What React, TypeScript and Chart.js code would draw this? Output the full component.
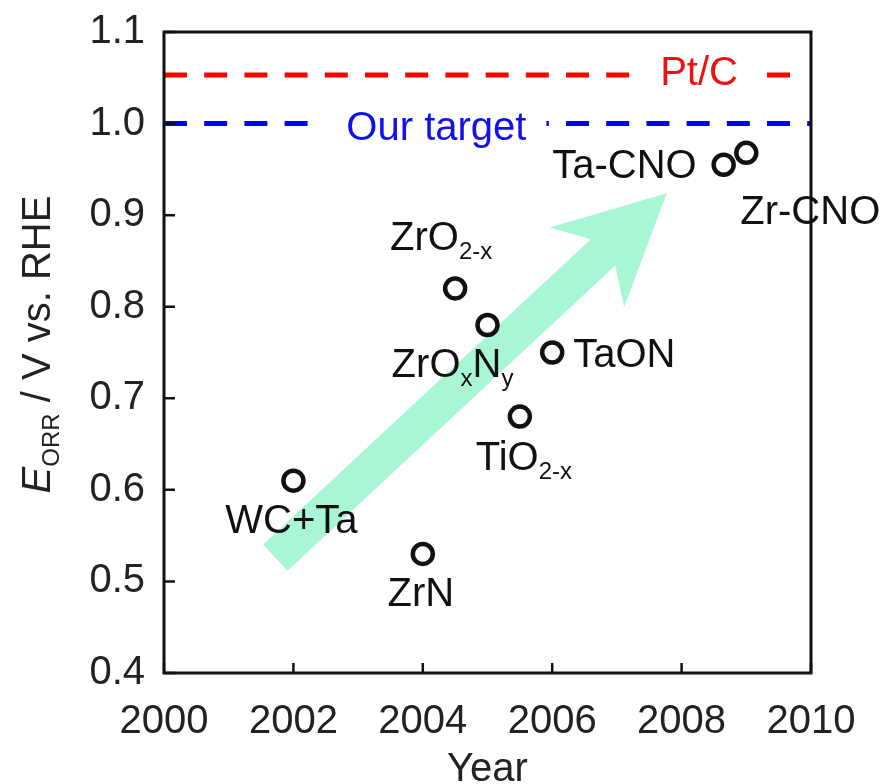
import React, { useEffect, useRef } from "react";
import { Chart, registerables } from "chart.js";

Chart.register(...registerables);

// ---------- data ----------
const YEARS = [2002, 2004, 2004.5, 2005, 2006, 2005.5, 2008.65, 2009.0];
const E_ORR = [0.61, 0.53, 0.82, 0.78, 0.75, 0.68, 0.955, 0.968];
const MATERIALS = [
  "WC+Ta",
  "ZrN",
  "ZrO_{2-x}",
  "ZrO_{x}N_{y}",
  "TaON",
  "TiO_{2-x}",
  "Ta-CNO",
  "Zr-CNO",
];
const REF_NAMES = ["Pt/C", "Our target"];
const REF_VALUES = [1.053, 1.0];
const REF_END_YEAR = [2009.7, 2010];
const X_RANGE = [2000, 2010];
const X_STEP = 2;
const Y_RANGE = [0.4, 1.1];
const Y_STEP = 0.1;
const ARROW_FROM = [2001.72, 0.526];
const ARROW_TO = [2007.77, 0.924];
const X_TITLE = "Year";
const Y_TITLE_PARTS: [string, string][] = [
  ["E", "italic"],
  ["ORR", "sub"],
  [" / V vs. RHE", "normal"],
];

// ---------- layout / style ----------
const FONT = "'Liberation Sans', Arial, Helvetica, sans-serif";
const MAIN_SIZE = 40;
const SUB_SIZE = 24;
const SUB_SHIFT = 9;
const TEXT_COLOR = "#111";
const REF_COLORS = ["#ff0000", "#0000ff"];
const REF_TEXT_COLORS = ["#ee1111", "#1111ee"];
const REF_LABEL_X = [2008.27, 2004.21];
const REF_LABEL_DY = [10, 16];
const POINT_LABEL_LAYOUT: { dx: number; dy: number; align: "left" | "center" | "right" }[] = [
  { dx: -2, dy: 52, align: "center" },
  { dx: -2, dy: 52, align: "center" },
  { dx: -14, dy: -38, align: "center" },
  { dx: -35, dy: 52, align: "center" },
  { dx: 21, dy: 14, align: "left" },
  { dx: 4, dy: 53, align: "center" },
  { dx: -27, dy: 13, align: "right" },
  { dx: -6, dy: 71, align: "left" },
];
const ARROW_COLOR = "rgb(168,246,212)";

type Seg = { t: string; kind: string };

function parseRich(s: string): Seg[] {
  const out: Seg[] = [];
  const re = /_\{([^}]*)\}/g;
  let last = 0;
  let m: RegExpExecArray | null;
  while ((m = re.exec(s))) {
    if (m.index > last) out.push({ t: s.slice(last, m.index), kind: "normal" });
    out.push({ t: m[1], kind: "sub" });
    last = re.lastIndex;
  }
  if (last < s.length) out.push({ t: s.slice(last), kind: "normal" });
  return out;
}

function segFont(kind: string) {
  if (kind === "sub") return `${SUB_SIZE}px ${FONT}`;
  if (kind === "italic") return `italic ${MAIN_SIZE}px ${FONT}`;
  return `${MAIN_SIZE}px ${FONT}`;
}

function richWidth(ctx: CanvasRenderingContext2D, segs: Seg[]) {
  let w = 0;
  for (const s of segs) {
    ctx.font = segFont(s.kind);
    w += ctx.measureText(s.t).width;
  }
  return w;
}

function drawRich(
  ctx: CanvasRenderingContext2D,
  segs: Seg[],
  x: number,
  baseline: number,
  align: string,
  color: string
) {
  const w = richWidth(ctx, segs);
  let cx = align === "center" ? x - w / 2 : align === "right" ? x - w : x;
  ctx.fillStyle = color;
  ctx.textAlign = "left";
  ctx.textBaseline = "alphabetic";
  for (const s of segs) {
    ctx.font = segFont(s.kind);
    ctx.fillText(s.t, cx, baseline + (s.kind === "sub" ? SUB_SHIFT : 0));
    cx += ctx.measureText(s.t).width;
  }
}

const decorPlugin = {
  id: "decor",
  beforeDatasetsDraw(chart: any) {
    const { ctx } = chart;
    const xs = chart.scales.x;
    const ys = chart.scales.y;
    const ax = xs.getPixelForValue(ARROW_FROM[0]);
    const ay = ys.getPixelForValue(ARROW_FROM[1]);
    const bx = xs.getPixelForValue(ARROW_TO[0]);
    const by = ys.getPixelForValue(ARROW_TO[1]);
    const len = Math.hypot(bx - ax, by - ay);
    const ux = (bx - ax) / len;
    const uy = (by - ay) / len;
    const nx = -uy;
    const ny = ux;
    const hw = 18;
    const headBack = 109;
    const headHalf = 54.5;
    const notchBack = 87;
    const pts = [
      [ax + nx * hw, ay + ny * hw],
      [bx - ux * notchBack + nx * hw, by - uy * notchBack + ny * hw],
      [bx - ux * headBack + nx * headHalf, by - uy * headBack + ny * headHalf],
      [bx, by],
      [bx - ux * headBack - nx * headHalf, by - uy * headBack - ny * headHalf],
      [bx - ux * notchBack - nx * hw, by - uy * notchBack - ny * hw],
      [ax - nx * hw, ay - ny * hw],
    ];
    ctx.save();
    ctx.fillStyle = ARROW_COLOR;
    ctx.beginPath();
    pts.forEach((p, i) => (i === 0 ? ctx.moveTo(p[0], p[1]) : ctx.lineTo(p[0], p[1])));
    ctx.closePath();
    ctx.fill();
    ctx.restore();
  },
  afterDatasetsDraw(chart: any) {
    const { ctx } = chart;
    const xs = chart.scales.x;
    const ys = chart.scales.y;
    ctx.save();
    REF_NAMES.forEach((name, i) => {
      const segs = parseRich(name);
      const cx = xs.getPixelForValue(REF_LABEL_X[i]);
      const ly = ys.getPixelForValue(REF_VALUES[i]);
      const w = richWidth(ctx, segs);
      ctx.fillStyle = "#ffffff";
      ctx.fillRect(cx - w / 2 - 28, ly - 10, w + 48, 20);
      drawRich(ctx, segs, cx, ly + REF_LABEL_DY[i], "center", REF_TEXT_COLORS[i]);
    });
    MATERIALS.forEach((name, i) => {
      const px = xs.getPixelForValue(YEARS[i]);
      const py = ys.getPixelForValue(E_ORR[i]);
      const L = POINT_LABEL_LAYOUT[i];
      drawRich(ctx, parseRich(name), px + L.dx, py + L.dy, L.align, TEXT_COLOR);
    });
    ctx.restore();
  },
  afterDraw(chart: any) {
    const { ctx, chartArea } = chart;
    const xs = chart.scales.x;
    const ys = chart.scales.y;
    ctx.save();
    ctx.strokeStyle = "#111";
    ctx.lineWidth = 3;
    ctx.strokeRect(chartArea.left, chartArea.top, chartArea.right - chartArea.left, chartArea.bottom - chartArea.top);
    ctx.lineWidth = 2.5;
    ctx.beginPath();
    xs.ticks.forEach((t: any) => {
      const x = xs.getPixelForValue(t.value);
      ctx.moveTo(x, chartArea.bottom);
      ctx.lineTo(x, chartArea.bottom - 10);
    });
    ys.ticks.forEach((t: any) => {
      const y = ys.getPixelForValue(t.value);
      ctx.moveTo(chartArea.left, y);
      ctx.lineTo(chartArea.left + 11, y);
    });
    ctx.stroke();
    const segs: Seg[] = Y_TITLE_PARTS.map(([t, kind]) => ({ t, kind }));
    const cy = (chartArea.top + chartArea.bottom) / 2 - 8;
    ctx.translate(50, cy);
    ctx.rotate(-Math.PI / 2);
    drawRich(ctx, segs, 0, 0, "center", "#222");
    ctx.restore();
  },
};

export default function App() {
  const ref = useRef<HTMLCanvasElement>(null);
  useEffect(() => {
    document.body.style.margin = "0";
    const canvas = ref.current!;
    const points = YEARS.map((x, i) => ({ x, y: E_ORR[i] }));
    const refSets = REF_NAMES.map((name, i) => ({
      type: "line" as const,
      label: name,
      data: [
        { x: X_RANGE[0], y: REF_VALUES[i] },
        { x: REF_END_YEAR[i], y: REF_VALUES[i] },
      ],
      borderColor: REF_COLORS[i],
      borderWidth: 5,
      borderDash: [23, 17.2],
      borderCapStyle: "butt" as const,
      pointRadius: 0,
      showLine: true,
      fill: false,
    }));
    const chart = new Chart(canvas, {
      type: "scatter",
      data: {
        datasets: [
          {
            label: "E_ORR",
            data: points,
            pointRadius: 10,
            pointHoverRadius: 10,
            pointBorderWidth: 4.5,
            pointBorderColor: "#111",
            pointBackgroundColor: "#ffffff",
          } as any,
          ...refSets,
        ],
      },
      options: {
        animation: false,
        responsive: false,
        devicePixelRatio: 1,
        layout: { padding: { top: 32, right: 80, left: 0, bottom: 0 } },
        plugins: { legend: { display: false }, tooltip: { enabled: false } },
        scales: {
          x: {
            type: "linear",
            min: X_RANGE[0],
            max: X_RANGE[1],
            grid: { display: false, drawTicks: false },
            border: { display: false },
            ticks: {
              stepSize: X_STEP,
              padding: 25,
              maxRotation: 0,
              autoSkip: false,
              color: "#222",
              font: { size: MAIN_SIZE, family: FONT },
              callback: (v: any) => String(v),
            },
            title: {
              display: true,
              text: X_TITLE,
              color: "#222",
              font: { size: MAIN_SIZE, family: FONT, lineHeight: 0.7 },
              padding: 0,
            },
            afterFit: (s: any) => {
              s.height = 111;
              s.paddingLeft = 0;
              s.paddingRight = 0;
            },
          },
          y: {
            type: "linear",
            min: Y_RANGE[0],
            max: Y_RANGE[1],
            grid: { display: false, drawTicks: false },
            border: { display: false },
            ticks: {
              stepSize: Y_STEP,
              padding: 19,
              color: "#222",
              font: { size: MAIN_SIZE, family: FONT },
              callback: (v: any) => Number(v).toFixed(1),
            },
            afterFit: (s: any) => {
              s.width = 164;
              s.paddingTop = 0;
              s.paddingBottom = 0;
            },
          },
        },
      },
      plugins: [decorPlugin],
    });
    return () => chart.destroy();
  }, []);
  return (
    <div style={{ width: 891, height: 784 }}>
      <canvas ref={ref} width={891} height={784} style={{ display: "block" }} />
    </div>
  );
}
